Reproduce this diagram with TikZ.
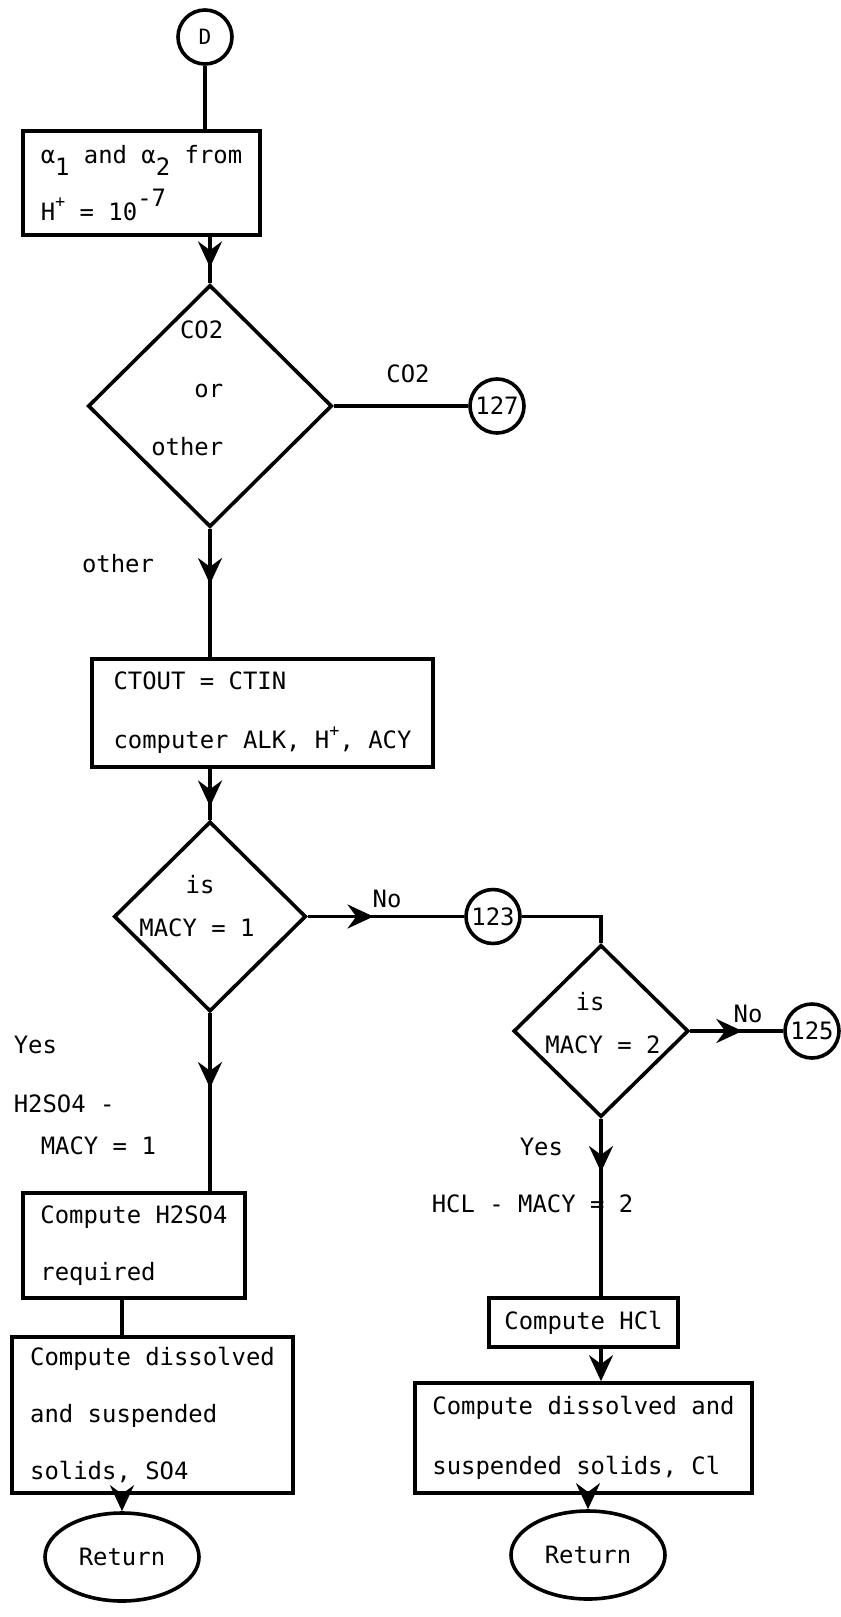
\documentclass[tikz,border=0pt]{standalone}
\usepackage{fontspec}
\setmainfont{DejaVu Sans Mono}
\usetikzlibrary{arrows.meta, shapes.geometric, decorations.markings}

\newcommand{\lowr}[1]{\raisebox{-8.5pt}{#1}}
\newcommand{\highr}[1]{\raisebox{10pt}{#1}}
\newcommand{\plus}{\raisebox{9pt}{\fontsize{12pt}{12pt}\selectfont +}}

\tikzset{
  every node/.style={font=\fontsize{17pt}{40.5pt}\selectfont},
  box/.style={draw, rectangle, align=left, inner sep=0pt},
  decide/.style={draw, diamond, inner sep=0pt},
  conn/.style={draw, circle, minimum size=13.5mm, inner sep=0pt},
  ret/.style={draw, ellipse, minimum width=38.5mm, minimum height=22mm, inner sep=0pt},
  lbl/.style={inner sep=0pt},
  >={Stealth[length=6.5mm, width=6mm, inset=2.2mm]},
  tipat/.style={postaction={decorate, decoration={markings, mark=at position #1 with {\arrow{>}}}}}
}

\begin{document}
\begin{tikzpicture}[x=0.25mm, y=-0.25mm, line width=0.9mm]
\useasboundingbox (0,0) rectangle (841,1617);

\node[conn, font=\fontsize{15pt}{15pt}\selectfont] (start) at (205,37) {D};
\node[box, minimum width=59.25mm, minimum height=26mm] (alpha) at (141.5,183)
  {α\lowr{1} and α\lowr{2} from\\H\plus{} = 10\highr{-7}};
\node[decide, minimum width=61mm, minimum height=60.5mm] (gas) at (210,406) {};
\node[conn] (c127) at (497,406) {127};
\node[box, minimum width=85.25mm, minimum height=27mm] (ctout) at (262.5,713)
  {CTOUT = CTIN\\[1.5pt]computer ALK, H\plus, ACY};
\node[decide, minimum width=48mm, minimum height=47.5mm] (macy1) at (210,916.5) {};
\node[conn] (c123) at (493,916.5) {123};
\node[decide, minimum width=43.75mm, minimum height=43mm] (macy2) at (601,1031) {};
\node[conn] (c125) at (812,1031) {125};

%left branch
\node[box, minimum width=55.5mm, minimum height=26.25mm] (acid1) at (134,1245.5)
  {Compute H2SO4\\required};
\node[box, minimum width=70.25mm, minimum height=39mm] (solids1) at (152.5,1415)
  {Compute dissolved\\and suspended\\solids, SO4};
\node[ret] (ret1) at (122,1557) {Return};

%right branch
\node[box, minimum width=47.25mm, minimum height=12.25mm] (acid2) at (583.5,1322.5) {Compute HCl};
\node[box, minimum width=84.25mm, minimum height=27.5mm] (solids2) at (583.5,1438)
  {Compute dissolved and\\[2pt]suspended solids, Cl};
\node[ret] (ret2) at (588,1555) {Return};

%text in the decisions
\node[lbl, anchor=base east] (gas1) at (225,338) {CO2};
\node[lbl, anchor=base east] (gas2) at (225,397) {or};
\node[lbl, anchor=base east] (gas3) at (225,455) {other};
\node[lbl, anchor=base] (is1) at (200,893) {is};
\node[lbl, anchor=base] (eq1) at (197,936) {MACY = 1};
\node[lbl, anchor=base] (is2) at (590,1010) {is};
\node[lbl, anchor=base] (eq2) at (603,1053) {MACY = 2};

%label
\node[lbl, anchor=base] (lco2) at (408,382) {CO2};
\node[lbl, anchor=base] (lother) at (118,572) {other};
\node[lbl, anchor=base] (lno1) at (387,907) {No};
\node[lbl, anchor=base] (lno2) at (748,1022) {No};
\node[lbl, anchor=base west] (lyes1) at (12,1053) {Yes};
\node[lbl, anchor=base west] (lh2so4) at (12,1112) {H2SO4 -};
\node[lbl, anchor=base west] (lmacy1) at (39,1154) {MACY = 1};
\node[lbl, anchor=base west] (lyes2) at (518,1155) {Yes};
\node[lbl, anchor=base west] (lhcl) at (430,1212) {HCL - MACY = 2};

%draw edges
\draw (start) -- (start |- alpha.north);
\draw[tipat=0.66] (alpha.south -| gas) -- (gas.north);
\draw (gas.east) -- (c127.west);
\draw[tipat=0.43] (gas.south) -- (gas.south |- ctout.north);
\draw[tipat=0.74] (ctout.south -| macy1) -- (macy1.north);
\draw[tipat=0.42] (macy1.east) -- (c123.west);
\draw (c123.east) -| (macy2.north);
\draw[tipat=0.56] (macy2.east) -- (c125.west);
\draw[tipat=0.42] (macy1.south) -- (macy1.south |- acid1.north);
\draw (acid1.south -| ret1) -- (solids1.north -| ret1);
\draw[->] (solids1.south -| ret1) -- (ret1.north);
\draw[tipat=0.3] (macy2.south) -- (macy2.south |- acid2.north);
\draw[->] (acid2.south -| macy2) -- (solids2.north -| macy2);
\draw[->] (solids2.south -| ret2) -- (ret2.north);

\end{tikzpicture}
\end{document}
